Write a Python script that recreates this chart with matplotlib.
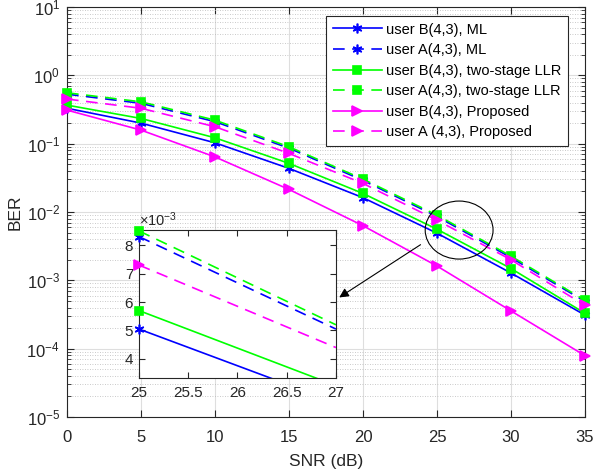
import matplotlib
matplotlib.use('Agg')
import matplotlib.pyplot as plt
from matplotlib.patches import Ellipse
from matplotlib.ticker import ScalarFormatter, LogLocator, NullFormatter, FixedLocator

plt.rcParams['font.family'] = ['Liberation Sans', 'DejaVu Sans']
plt.rcParams['mathtext.fontset'] = 'custom'
plt.rcParams['mathtext.rm'] = 'Liberation Sans'
plt.rcParams['mathtext.it'] = 'Liberation Sans'

snr = [0, 5, 10, 15, 20, 25, 30, 35]
ber_b_ml = [0.33, 0.20, 0.103, 0.0435, 0.0162, 0.0049, 0.00128, 0.00031]
ber_a_ml = [0.53, 0.39, 0.21, 0.086, 0.0290, 0.0086, 0.00215, 0.00049]
ber_b_llr = [0.367, 0.234, 0.122, 0.0515, 0.0187, 0.0056, 0.00149, 0.00033]
ber_a_llr = [0.556, 0.41, 0.221, 0.090, 0.0303, 0.0090, 0.00226, 0.00051]
ber_b_prop = [0.31, 0.158, 0.064, 0.0214, 0.0063, 0.00162, 0.000357, 0.000079]
ber_a_prop = [0.45, 0.33, 0.177, 0.072, 0.0262, 0.0076, 0.0020, 0.00043]
ber_ticks = [1e-5, 1e-4, 1e-3, 1e-2, 1e-1, 1e0, 1e1]

# zoomed-in view
snr_zoom = [25, 27]
zoom_b_ml = [5.05e-3, 2.47e-3]
zoom_a_ml = [8.30e-3, 5.05e-3]
zoom_b_llr = [5.70e-3, 3.06e-3]
zoom_a_llr = [8.50e-3, 5.20e-3]
zoom_b_prop = [None, None]
zoom_a_prop = [7.30e-3, 4.40e-3]

labels = ['user B(4,3), ML', 'user A(4,3), ML',
          'user B(4,3), two-stage LLR', 'user A(4,3), two-stage LLR',
          'user B(4,3), Proposed', 'user A (4,3), Proposed']

blue = (0, 0, 1)
green = (0, 1, 0)
magenta = (1, 0, 1)
asterisk = (6, 2, 0)
dash = (0, (7, 4.5))
styles = [
    (blue, '-', asterisk, 7),
    (blue, dash, asterisk, 7),
    (green, '-', 's', 6),
    (green, dash, 's', 6),
    (magenta, '-', '>', 7),
    (magenta, dash, '>', 7),
]
main_data = [ber_b_ml, ber_a_ml, ber_b_llr, ber_a_llr, ber_b_prop, ber_a_prop]
zoom_data = [zoom_b_ml, zoom_a_ml, zoom_b_llr, zoom_a_llr, zoom_b_prop, zoom_a_prop]

axc = (0.15, 0.15, 0.15)

fig = plt.figure(figsize=(5.95, 4.71), dpi=100)
ax = fig.add_axes([0.1126, 0.1146, 0.8706, 0.8705])

for data, lab, (c, ls, m, ms) in zip(main_data, labels, styles):
    ax.plot(snr, data, color=c, linestyle=ls, marker=m, markersize=ms,
            linewidth=1.2, label=lab, markeredgecolor=c, markerfacecolor=c,
            markeredgewidth=1.2, clip_on=False, zorder=3)

ax.set_yscale('log')
ax.set_xlim(0, 35)
ax.set_ylim(1e-5, 1e1)
ax.set_xticks(snr)
ax.yaxis.set_major_locator(FixedLocator(ber_ticks))
ax.yaxis.set_minor_locator(LogLocator(base=10, subs=range(2, 10), numticks=100))
ax.yaxis.set_minor_formatter(NullFormatter())
ax.grid(True, which='major', color=(0.87, 0.87, 0.87), linewidth=0.8, linestyle='-')
ax.grid(True, which='minor', axis='y', color=(0.72, 0.72, 0.72), linewidth=0.6,
        linestyle=(0, (1, 2)))
ax.set_axisbelow(True)
ax.tick_params(which='both', direction='in', top=True, right=True, colors=axc,
               labelsize=12)
ax.tick_params(which='major', length=5)
ax.tick_params(which='minor', length=3)
ax.tick_params(axis='x', pad=9)
ax.tick_params(axis='y', pad=5)
for s in ax.spines.values():
    s.set_color(axc)
    s.set_linewidth(0.8)
ax.set_xlabel('SNR (dB)', fontsize=12.5, color=axc, labelpad=6.5)
ax.set_ylabel('BER', fontsize=12.5, color=axc, labelpad=3)

leg = ax.legend(loc='upper right', bbox_to_anchor=(0.968, 0.978), fontsize=10.5,
                fancybox=False, framealpha=1, edgecolor=axc, borderpad=0.45,
                labelspacing=0.45, handlelength=3.4, handletextpad=0.3,
                borderaxespad=0)
leg.get_frame().set_linewidth(0.8)

# circle and arrow pointing to the inset
ax.add_patch(Ellipse((0.757, 0.456), 0.131, 0.1415, transform=ax.transAxes,
                     fill=False, edgecolor='black', linewidth=0.8, zorder=5))
ax.annotate('', xy=(0.521, 0.288), xytext=(0.687, 0.424),
            xycoords='axes fraction', textcoords='axes fraction',
            arrowprops=dict(arrowstyle='-|>', color='black', linewidth=0.8,
                            mutation_scale=14), zorder=5)

# inset
axi = fig.add_axes([0.2336, 0.1975, 0.331, 0.314])
axi.set_facecolor('white')
for data, (c, ls, m, ms) in zip(zoom_data, styles):
    if data[0] is None:
        continue
    axi.plot(snr_zoom, data, color=c, linestyle=ls, linewidth=1.2)
    axi.plot(snr_zoom[:1], data[:1], color=c, linestyle='none', marker=m,
             markersize=ms, markeredgecolor=c, markerfacecolor=c,
             markeredgewidth=1.2, clip_on=False, zorder=4)
axi.set_xlim(25, 27)
axi.set_ylim(3.33e-3, 8.53e-3)
axi.set_xticks([25, 25.5, 26, 26.5, 27])
axi.set_xticklabels(['25', '25.5', '26', '26.5', '27'])
axi.set_yticks([4e-3, 5e-3, 6e-3, 7e-3, 8e-3])
fmt = ScalarFormatter(useMathText=True)
fmt.set_powerlimits((-2, 2))
axi.yaxis.set_major_formatter(fmt)
axi.yaxis.get_offset_text().set_fontsize(10.5)
axi.yaxis.get_offset_text().set_color(axc)
axi.tick_params(direction='in', top=True, right=True, colors=axc, labelsize=11,
                length=4)
axi.tick_params(axis='x', pad=6)
for s in axi.spines.values():
    s.set_color(axc)
    s.set_linewidth(0.8)

fig.savefig('out.png', dpi=100)
